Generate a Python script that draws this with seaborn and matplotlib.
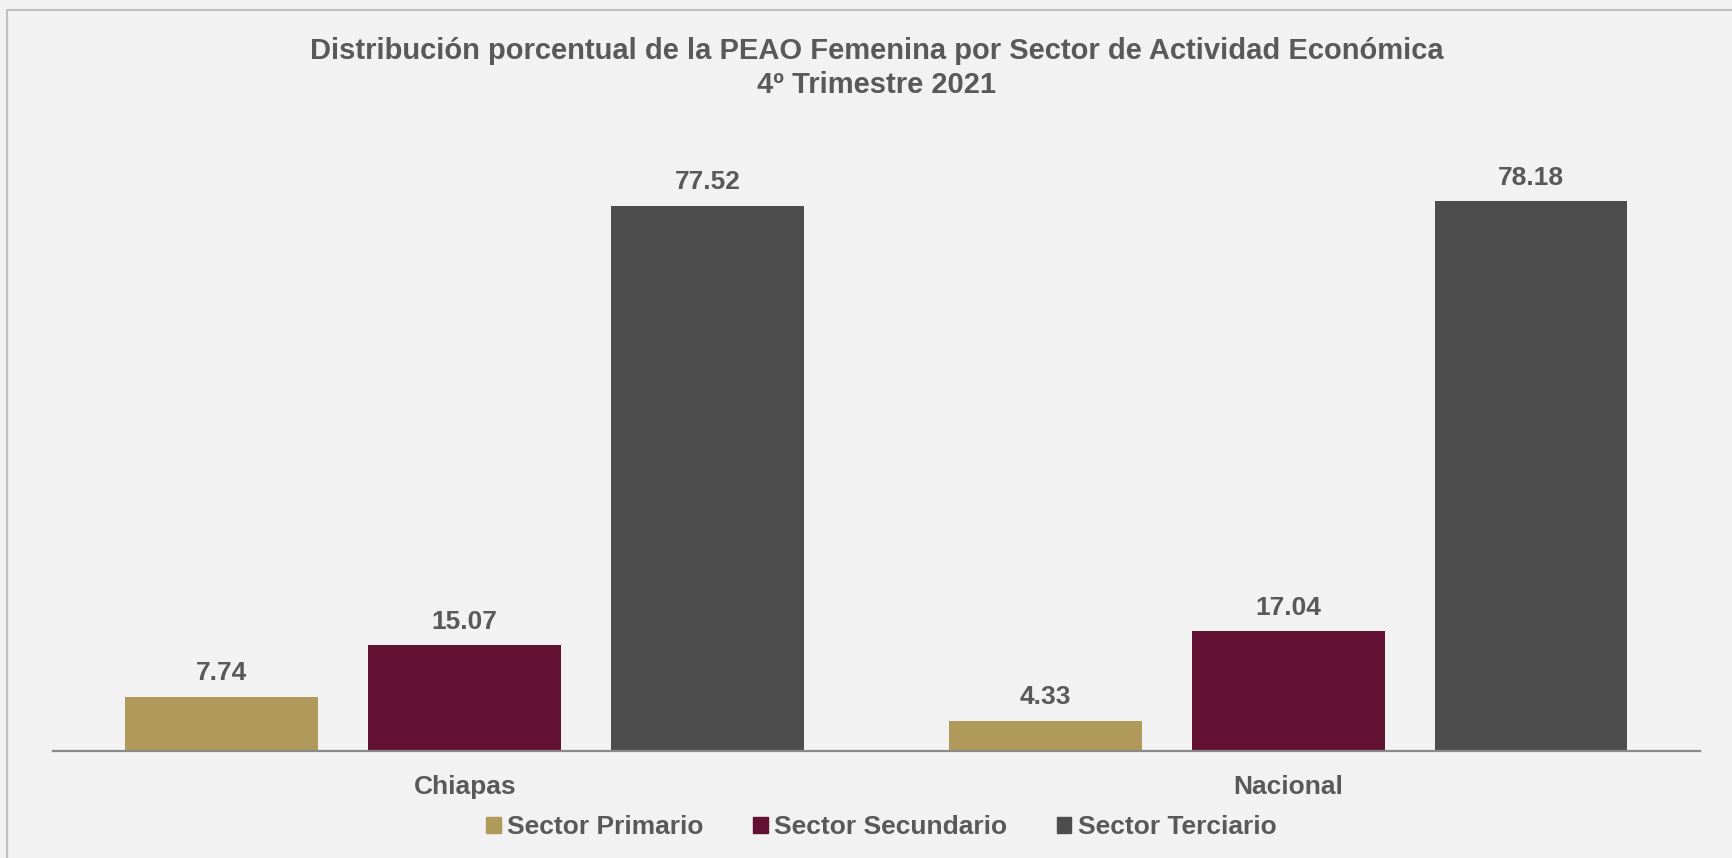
import pandas as pd
import seaborn as sns
import matplotlib.pyplot as plt
from matplotlib.lines import Line2D

sns.set_style('white')
plt.rcParams['font.family'] = ['Liberation Sans', 'DejaVu Sans']

# data
regiones = ['Chiapas', 'Nacional']
sectores = ['Sector Primario', 'Sector Secundario', 'Sector Terciario']
primario = [7.74, 4.33]
secundario = [15.07, 17.04]
terciario = [77.52, 78.18]
colores = ['#B09A5B', '#621132', '#4D4D4D']

df = pd.DataFrame({
    'region': regiones * 3,
    'sector': [s for s in sectores for _ in regiones],
    'valor': primario + secundario + terciario,
})

bg = '#F2F2F2'
txt = '#595959'

fig = plt.figure(figsize=(17.32, 8.58), dpi=100, facecolor=bg)
ax = fig.add_axes([0.0306, 0.1247, 0.9509, 0.738])
ax.set_facecolor(bg)

sns.barplot(data=df, x='region', y='valor', hue='sector', hue_order=sectores,
            palette=colores, width=0.885, gap=0.207, errorbar=None,
            saturation=1, linewidth=0, ax=ax)
ax.get_legend().remove()

for cont in ax.containers:
    ax.bar_label(cont, fmt='%.2f', padding=8, fontsize=19, fontweight='bold', color=txt)

ax.set_xlim(-0.5, 1.5)
ax.set_ylim(0, 90)
ax.set_xlabel('')
ax.set_ylabel('')
ax.set_yticks([])
ax.tick_params(axis='x', length=0, pad=17, labelsize=19, labelcolor=txt)
for lab in ax.get_xticklabels():
    lab.set_fontweight('bold')
for s in ['top', 'left', 'right']:
    ax.spines[s].set_visible(False)
ax.spines['bottom'].set_color('#898989')
ax.spines['bottom'].set_linewidth(1.6)

# title
fig.text(0.506, 1 - 51 / 858, 'Distribución porcentual de la PEAO Femenina por Sector de Actividad Económica',
         ha='center', va='center', fontsize=21, fontweight='bold', color=txt)
fig.text(0.506, 1 - 85 / 858, '4º Trimestre 2021',
         ha='center', va='center', fontsize=21, fontweight='bold', color=txt)

handles = [plt.Rectangle((0, 0), 1, 1, color=c) for c in colores]
fig.legend(handles, sectores, loc='center', bbox_to_anchor=(0.509, 1 - 827 / 858), ncol=3,
           frameon=False, handlelength=0.55, handleheight=0.55, handletextpad=0.25,
           columnspacing=1.87, prop={'size': 19, 'weight': 'bold'}, labelcolor=txt)

# chart border (left and top visible)
fig.add_artist(Line2D([7 / 1732, 7 / 1732], [0, 1 - 10 / 858], transform=fig.transFigure,
                      color='#BFBFBF', linewidth=1.5))
fig.add_artist(Line2D([7 / 1732, 1], [1 - 10 / 858, 1 - 10 / 858], transform=fig.transFigure,
                      color='#BFBFBF', linewidth=1.5))

fig.savefig('out.png', dpi=100, facecolor=bg)
